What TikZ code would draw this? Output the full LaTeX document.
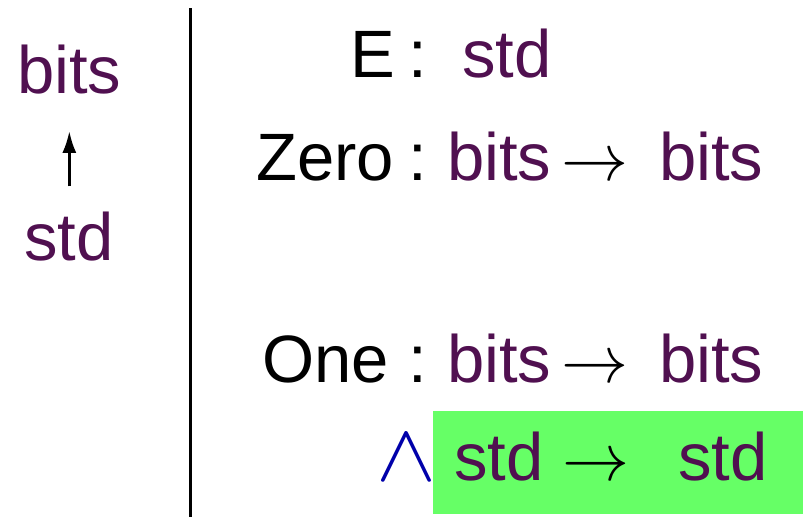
\documentclass[tikz,border=0pt]{standalone}
\usepackage{fontspec}
\setmainfont{Liberation Sans}
\usetikzlibrary{arrows.meta}
\definecolor{typepurple}{RGB}{80,16,80}
\definecolor{hlgreen}{RGB}{102,255,102}
\definecolor{wedgeblue}{RGB}{0,0,170}
\begin{document}
\begin{tikzpicture}[x=1pt,y=-1pt,
  txt/.style={inner sep=0pt,anchor=base west,font=\fontsize{67}{70}\selectfont},
  typ/.style={txt,text=typepurple},
  sym/.style={inner sep=0pt,anchor=base,font=\fontsize{67}{70}\selectfont},
  mth/.style={inner sep=0pt,anchor=base,font=\fontsize{10}{12}\selectfont,scale=6.7},
  conj/.style={inner sep=0pt,anchor=base,font=\fontsize{10}{12}\selectfont,
    xscale=9,yscale=8.2,text=wedgeblue},
  sep/.style={line width=3pt},
  upar/.style={line width=3pt,-{Latex[length=22pt,width=14pt]}}]
\useasboundingbox (0,0) rectangle (803,517);

% left column: std lifted into bits
\node[typ] (bitsL) at (17,93) {bits};
\node[typ] (stdL) at (24,260) {std};
\draw[upar,shorten <=25pt,shorten >=37pt] (stdL.north -| bitsL.south) -- (bitsL.south);

% divider
\coordinate (divtop) at (190,8);
\coordinate (divbot) at (190,517);
\draw[sep] (divtop) -- (divbot);

% highlight behind the last clause
\fill[hlgreen] (433,411) rectangle (803,514);

% E : std
\node[txt] (eName) at (350,77) {E};
\node[sym] (eCol) at (418,77) {:};
\node[typ] (eStd) at (462,77) {std};

% Zero : bits -> bits
\node[txt] (zName) at (256,180) {Zero};
\node[sym] (zCol) at (418,180) {:};
\node[typ] (zDom) at (447,180) {bits};
\node[mth] (zTo) at (595,180) {$\to$};
\node[typ] (zCod) at (659,180) {bits};

% One : bits -> bits /\ std -> std
\node[txt] (oName) at (262,382) {One};
\node[sym] (oCol) at (418,382) {:};
\node[typ] (oDom) at (447,382) {bits};
\node[mth] (oTo) at (595,382) {$\to$};
\node[typ] (oCod) at (659,382) {bits};

\node[conj] (oAnd) at (406,480) {$\wedge$};
\node[typ] (sDom) at (454,480) {std};
\node[mth] (sTo) at (596,480) {$\to$};
\node[typ] (sCod) at (678,480) {std};
\end{tikzpicture}
\end{document}
